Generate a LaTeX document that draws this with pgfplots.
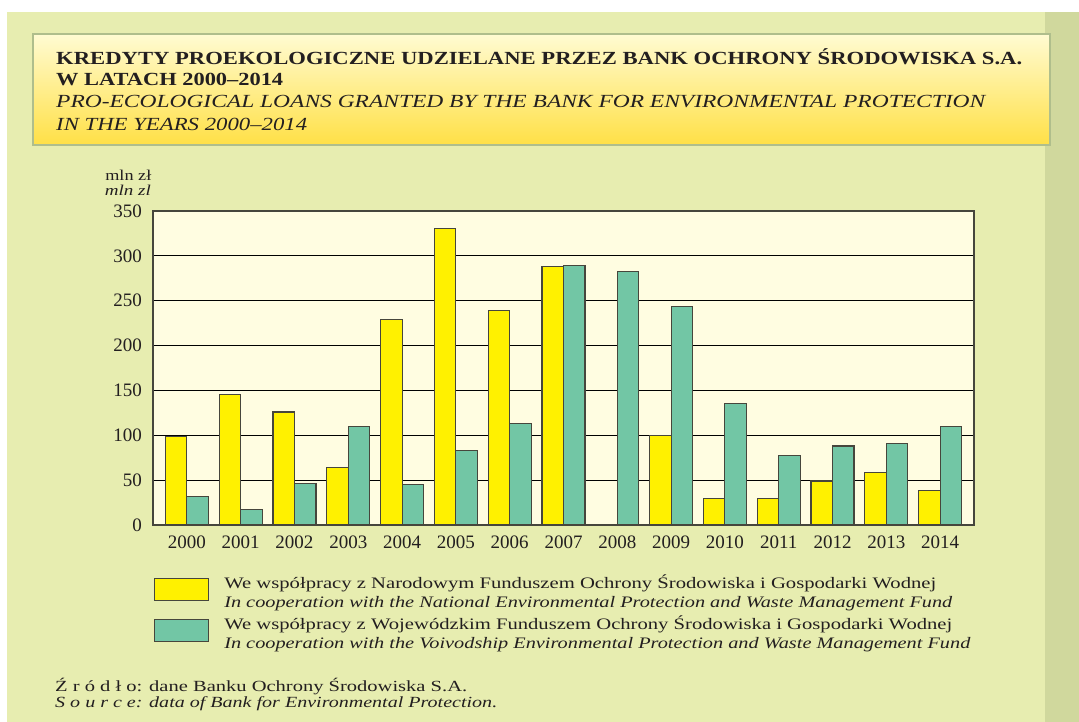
\documentclass[border=0pt]{standalone}
\usepackage{pgfplots}
\usepackage{pgfplotstable}
\pgfplotsset{compat=1.18}
\usepackage{fontspec}
\setmainfont{Liberation Serif}
\definecolor{bg}{RGB}{231,237,176}
\definecolor{strip}{RGB}{208,216,157}
\definecolor{plotbg}{RGB}{255,253,225}
\definecolor{ybarc}{RGB}{255,241,0}
\definecolor{gbarc}{RGB}{114,198,165}
\definecolor{edge}{RGB}{70,70,60}
\definecolor{boxtop}{RGB}{255,251,210}
\definecolor{boxbot}{RGB}{255,224,70}
\definecolor{boxedge}{RGB}{175,190,140}
\definecolor{txt}{RGB}{35,31,32}
\newcommand{\hs}[2]{\resizebox{#1}{\height}{#2}}

\pgfplotstableread{
x nat voi
0 99 32
1 145 17
2 126 46
3 64 110
4 229 45
5 330 83
6 239 113
7 288 289
8 nan 283
9 100 244
10 30 135
11 30 77
12 49 88
13 59 91
14 38 110
}\loans

\begin{document}
\begin{tikzpicture}[x=1pt,y=1pt]
\useasboundingbox (0,0) rectangle (1079,722);
\fill[white] (0,0) rectangle (1079,722);
\fill[bg] (7,0) rectangle (1079,710);
\fill[strip] (1045,0) rectangle (1079,710);
% title box
\shade[top color=boxtop,bottom color=boxbot] (33,577) rectangle (1050,688);
\draw[boxedge,line width=2pt] (33,577) rectangle (1050,688);
\node[anchor=base west,inner sep=0pt,text=txt,font=\fontsize{18.5}{22}\selectfont\bfseries] at (56,657) {\hs{966pt}{KREDYTY PROEKOLOGICZNE UDZIELANE PRZEZ BANK OCHRONY ŚRODOWISKA S.A.}};
\node[anchor=base west,inner sep=0pt,text=txt,font=\fontsize{18.5}{22}\selectfont\bfseries] at (56,636) {\hs{227pt}{W LATACH 2000–2014}};
\node[anchor=base west,inner sep=0pt,text=txt,font=\fontsize{18.5}{22}\selectfont\itshape] at (56,614) {\hs{929pt}{PRO-ECOLOGICAL LOANS GRANTED BY THE BANK FOR ENVIRONMENTAL PROTECTION}};
\node[anchor=base west,inner sep=0pt,text=txt,font=\fontsize{18.5}{22}\selectfont\itshape] at (56,591.5) {\hs{251pt}{IN THE YEARS 2000–2014}};
% unit label
\node[anchor=base east,inner sep=0pt,text=txt,font=\fontsize{15}{17}\selectfont] at (151.5,541) {\hs{46pt}{mln zł}};
\node[anchor=base east,inner sep=0pt,text=txt,font=\fontsize{15}{17}\selectfont\itshape] at (151,526) {\hs{46pt}{mln zl}};
\begin{axis}[
  at={(153pt,197pt)}, anchor=south west,
  scale only axis, width=821pt, height=314pt,
  xmin=-0.63, xmax=14.63, ymin=0, ymax=350,
  ytick={0,50,...,350},
  xtick={0,...,14},
  xticklabels={2000,2001,2002,2003,2004,2005,2006,2007,2008,2009,2010,2011,2012,2013,2014},
  major tick length=0pt,
  ymajorgrids, grid style={black, line width=1.1pt},
  axis background/.style={fill=plotbg},
  axis line style={edge, line width=1.3pt},
  tick label style={font=\fontsize{19}{21}\selectfont, text=txt},
  /pgf/number format/assume math mode=true,
  /pgf/number format/1000 sep={},
  yticklabel style={inner sep=0pt, xshift=-11pt},
  xticklabel style={inner sep=0pt, yshift=-11pt},
  ybar, bar width=0.4,
  legend style={at={(0.0012,-0.157)}, anchor=north west, draw=none, fill=none,
    inner sep=0pt, row sep=15pt, column sep=15pt,
    nodes={inner sep=0pt},
    font=\fontsize{16}{17}\selectfont, text=txt},
  legend cell align=left,
  legend image code/.code={\draw[#1, line width=1.1pt] (0pt,-13.5pt) rectangle (54pt,8.5pt);},
]
\addplot[fill=ybarc, draw=edge, line width=1.1pt, bar shift=-0.2] table[x=x,y=nat]{\loans};
\addlegendentry{\begin{tabular}[c]{@{}l@{}}\hs{712pt}{We współpracy z Narodowym Funduszem Ochrony Środowiska i Gospodarki Wodnej}\\[2pt]\hs{728pt}{\itshape In cooperation with the National Environmental Protection and Waste Management Fund}\end{tabular}}
\addplot[fill=gbarc, draw=edge, line width=1.1pt, bar shift=0.2] table[x=x,y=voi]{\loans};
\addlegendentry{\begin{tabular}[c]{@{}l@{}}\hs{728pt}{We współpracy z Wojewódzkim Funduszem Ochrony Środowiska i Gospodarki Wodnej}\\[2pt]\hs{746pt}{\itshape In cooperation with the Voivodship Environmental Protection and Waste Management Fund}\end{tabular}}
\end{axis}
% source
\node[anchor=base west,inner sep=0pt,text=txt,font=\fontsize{15.5}{17}\selectfont] at (55,30.5) {\hs{412pt}{Ź r ó d ł o: dane Banku Ochrony Środowiska S.A.}};
\node[anchor=base west,inner sep=0pt,text=txt,font=\fontsize{15.5}{17}\selectfont\itshape] at (55,14.5) {\hs{442pt}{S o u r c e: data of Bank for Environmental Protection.}};
\end{tikzpicture}
\end{document}
